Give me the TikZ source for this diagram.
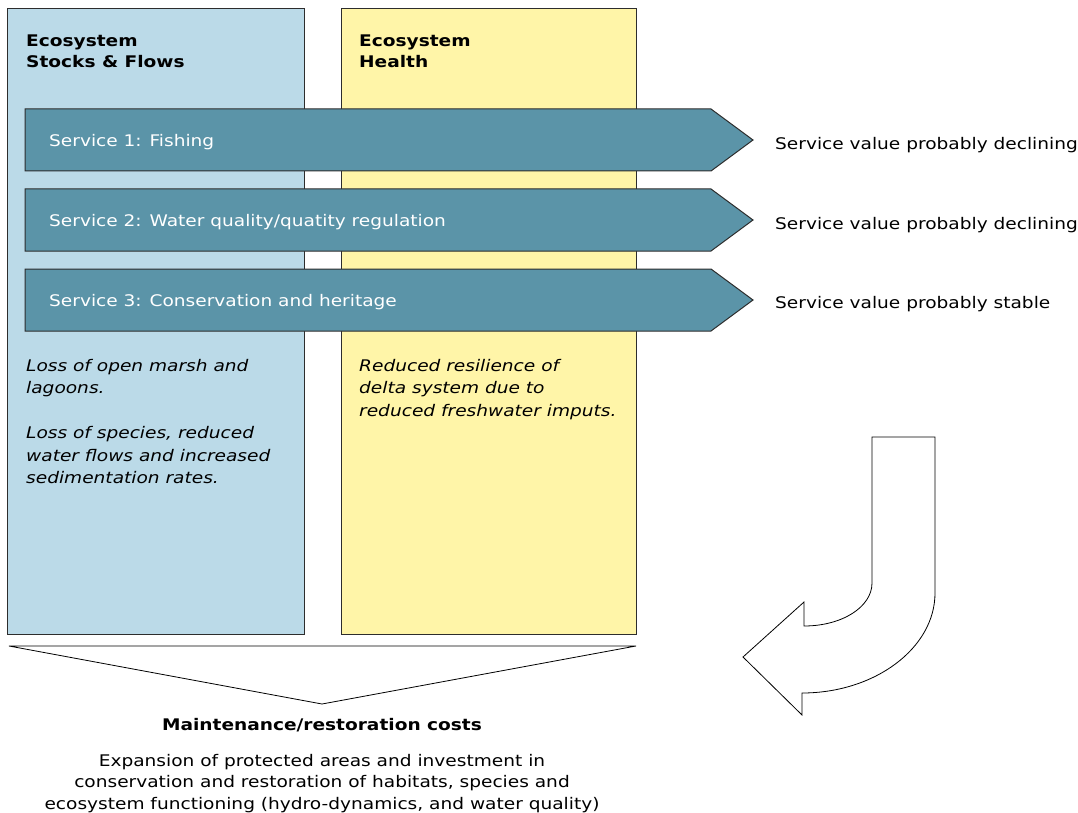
\documentclass[tikz,border=0pt]{standalone}
\usepackage{fontspec}
\setmainfont{DejaVu Sans}[FakeStretch=1.16]
\usetikzlibrary{positioning}
\definecolor{stockBlue}{RGB}{187,218,232}
\definecolor{healthYellow}{RGB}{255,245,168}
\definecolor{serviceTeal}{RGB}{91,148,168}
\definecolor{edgeGray}{RGB}{45,45,45}

\begin{document}
\begin{tikzpicture}[x=1pt,y=-1pt,
    every node/.style={inner sep=0pt, font=\fontsize{16}{22.5}\selectfont},
    colbox/.style={draw=edgeGray, line width=1pt},
    svcarrow/.style={draw=edgeGray, fill=serviceTeal, line width=1pt},
    svclabel/.style={anchor=west, text=white},
    trendlabel/.style={anchor=west},
    coltitle/.style={anchor=north west, align=left, font=\fontsize{16}{21}\selectfont\bfseries},
    colnote/.style={anchor=north west, align=left, font=\fontsize{16}{22.5}\selectfont\itshape}]
        \useasboundingbox (0,0) rectangle (1078,813);
        % columns
        \draw[colbox, fill=stockBlue] (7,9) rectangle (304,634);
        \draw[colbox, fill=healthYellow] (341,9) rectangle (636,634);
        \node[coltitle] (stockstitle) at (26,35) {Ecosystem\\Stocks \& Flows};
        \node[coltitle] (healthtitle) at (359,35) {Ecosystem\\Health};
        % services
        \draw[svcarrow] (25,109) -- (711,109) -- (753,140) -- (711,171) -- (25,171) -- cycle;
        \draw[svcarrow] (25,189) -- (711,189) -- (753,220) -- (711,251) -- (25,251) -- cycle;
        \draw[svcarrow] (25,269) -- (711,269) -- (753,300) -- (711,331) -- (25,331) -- cycle;
        \node[svclabel] (svc1) at (49,142) {Service 1: Fishing};
        \node[svclabel] (svc2) at (49,222) {Service 2: Water quality/quatity regulation};
        \node[svclabel] (svc3) at (49,302) {Service 3: Conservation and heritage};
        \node[trendlabel] (trend1) at (775,145) {Service value probably declining};
        \node[trendlabel] (trend2) at (775,225) {Service value probably declining};
        \node[trendlabel] (trend3) at (775,304) {Service value probably stable};
        % notes
        \node[colnote] (stocksnote) at (26,359) {Loss of open marsh and\\lagoons.\\[22.5pt]Loss of species, reduced\\water flows and increased\\sedimentation rates.};
        \node[colnote] (healthnote) at (359,359) {Reduced resilience of\\delta system due to\\reduced freshwater imputs.};
        % costs
        \draw[line width=0.8pt, fill=white] (9,646) -- (636,646) -- (322,704) -- cycle;
        \node[anchor=base, font=\fontsize{16}{21}\selectfont\bfseries] (costs) at (322,730) {Maintenance/restoration costs};
        \node[anchor=north, align=center, font=\fontsize{16}{21.5}\selectfont] (costnote) at (322,754) {Expansion of protected areas and investment in\\conservation and restoration of habitats, species and\\ecosystem functioning (hydro-dynamics, and water quality)};
        % feedback
        \draw[line width=0.8pt, fill=white] (872,437) -- (935,437) -- (935,593)
          .. controls (935,648) and (875,693) .. (802,693) -- (802,715) -- (743,657)
          -- (804,602) -- (804,626) .. controls (842,626) and (872,607) .. (872,583) -- cycle;
      \end{tikzpicture}
\end{document}
